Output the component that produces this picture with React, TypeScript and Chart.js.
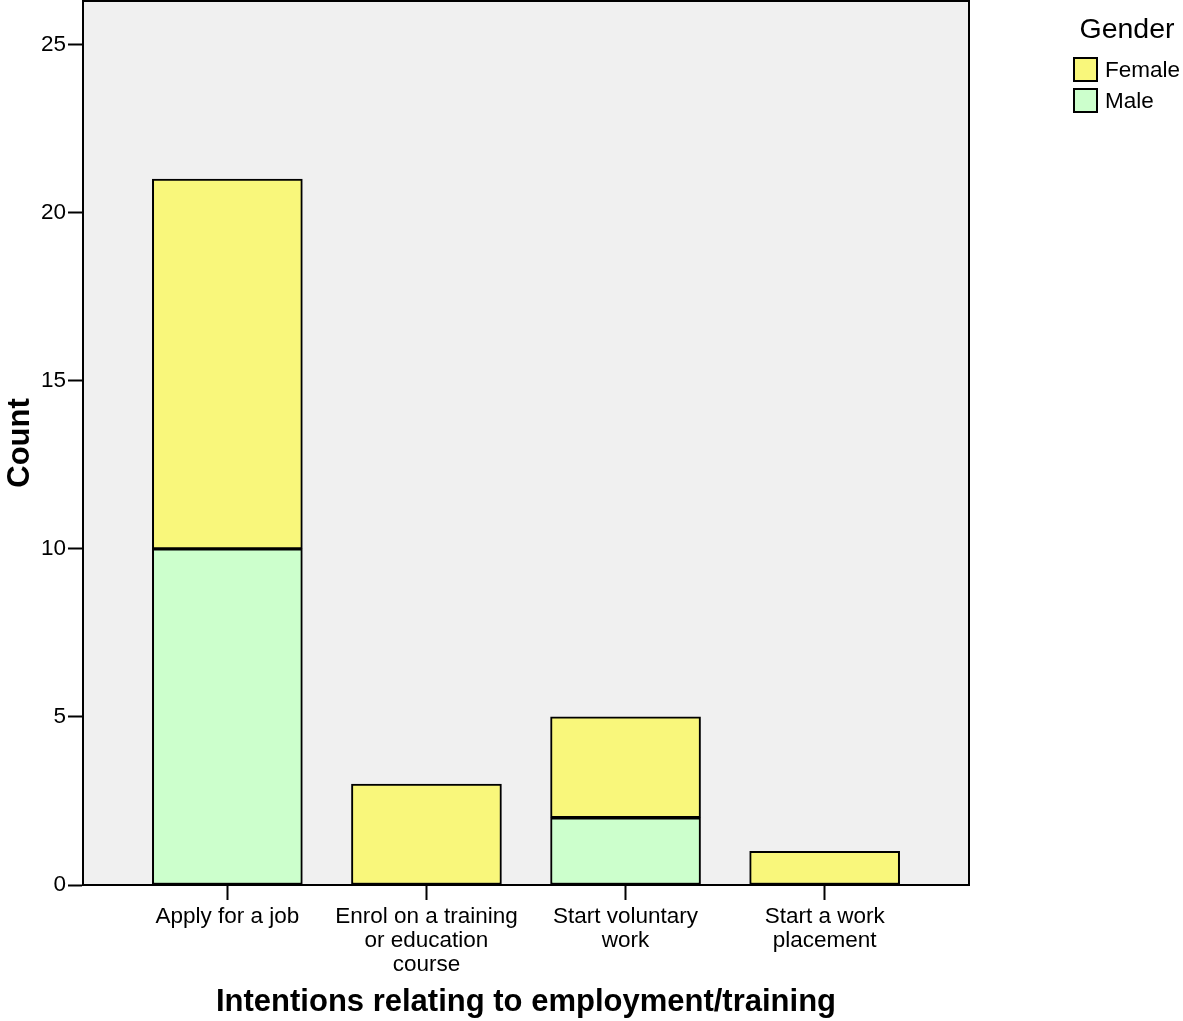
import React, { useEffect, useRef } from "react";
import { Chart, registerables } from "chart.js";

Chart.register(...registerables);

const categories: string[][] = [
  ["Apply for a job"],
  ["Enrol on a training", "or education", "course"],
  ["Start voluntary", "work"],
  ["Start a work", "placement"],
];
const maleCounts: (number | null)[] = [10, null, 2, null];
const femaleCounts: (number | null)[] = [11, 3, 3, 1];
const yTicks: number[] = [0, 5, 10, 15, 20, 25];
const seriesNames = ["Female", "Male"];
const legendTitle = "Gender";
const xTitle = "Intentions relating to employment/training";
const yTitle = "Count";

const FEMALE_COLOR = "#f9f77b";
const MALE_COLOR = "#ccffcc";
const FONT = "'Liberation Sans', Arial, Helvetica, sans-serif";

const toPoints = (vals: (number | null)[]) =>
  vals.map((v, i) => ({ x: i, y: v }));

const framePlugin = {
  id: "frame",
  beforeDraw(chart: any) {
    const { ctx, chartArea } = chart;
    ctx.save();
    ctx.fillStyle = "#f0f0f0";
    ctx.fillRect(chartArea.left, chartArea.top, chartArea.right - chartArea.left, chartArea.bottom - chartArea.top);
    ctx.restore();
  },
  afterDraw(chart: any) {
    const { ctx, chartArea } = chart;
    ctx.save();
    ctx.strokeStyle = "#000";
    ctx.lineWidth = 2;
    ctx.strokeRect(chartArea.left, chartArea.top, chartArea.right - chartArea.left, chartArea.bottom - chartArea.top);
    // custom legend
    ctx.fillStyle = "#000";
    ctx.font = `28.5px ${FONT}`;
    ctx.textAlign = "center";
    ctx.textBaseline = "alphabetic";
    ctx.fillText(legendTitle, 1127, 38);
    const colors = [FEMALE_COLOR, MALE_COLOR];
    seriesNames.forEach((name, i) => {
      const y = 58 + i * 31;
      ctx.fillStyle = colors[i];
      ctx.fillRect(1074, y, 23, 23);
      ctx.strokeStyle = "#000";
      ctx.lineWidth = 2;
      ctx.strokeRect(1074, y, 23, 23);
      ctx.fillStyle = "#000";
      ctx.font = `22.5px ${FONT}`;
      ctx.textAlign = "left";
      ctx.textBaseline = "middle";
      ctx.fillText(name, 1105, y + 13);
    });
    ctx.restore();
  },
};

export default function App() {
  const canvasRef = useRef<HTMLCanvasElement | null>(null);

  useEffect(() => {
    if (!canvasRef.current) return;
    Chart.defaults.font.family = FONT;
    Chart.defaults.color = "#000";
    const chart = new Chart(canvasRef.current, {
      type: "bar",
      data: {
        datasets: [
          {
            label: "Male",
            data: toPoints(maleCounts) as any,
            backgroundColor: MALE_COLOR,
            borderColor: "#000",
            borderWidth: 2,
            borderSkipped: false,
            barThickness: 150,
          },
          {
            label: "Female",
            data: toPoints(femaleCounts) as any,
            backgroundColor: FEMALE_COLOR,
            borderColor: "#000",
            borderWidth: 2,
            borderSkipped: false,
            barThickness: 150,
          },
        ],
      },
      options: {
        animation: false,
        responsive: false,
        devicePixelRatio: 1,
        layout: { padding: { top: 1, right: 214, left: 0, bottom: 0 } },
        plugins: { legend: { display: false }, tooltip: { enabled: false } },
        scales: {
          x: {
            type: "linear",
            stacked: true,
            offset: false,
            min: -0.725,
            max: categories.length - 1 + 0.725,
            afterBuildTicks: (scale: any) => {
              scale.ticks = categories.map((_, i) => ({ value: i }));
            },
            afterFit: (scale: any) => {
              scale.height = 136;
              scale.paddingLeft = 0;
              scale.paddingRight = 0;
            },
            ticks: {
              font: { size: 22.5, lineHeight: 1.07 },
              padding: 5,
              maxRotation: 0,
              autoSkip: false,
              callback: (v: any) => categories[Math.round(Number(v))] ?? "",
            },
            grid: {
              offset: false,
              drawOnChartArea: false,
              tickLength: 15,
              tickWidth: 2,
              tickColor: "#000",
            },
            border: { display: true, color: "#000", width: 2 },
            title: {
              display: true,
              text: xTitle,
              font: { size: 31, weight: "bold" },
              padding: { top: 0, bottom: 0 },
            },
          },
          y: {
            type: "linear",
            stacked: true,
            min: 0,
            max: 26.3,
            afterBuildTicks: (scale: any) => {
              scale.ticks = yTicks.map((v) => ({ value: v }));
            },
            afterFit: (scale: any) => {
              scale.width = 83;
              scale.paddingTop = 0;
              scale.paddingBottom = 0;
            },
            ticks: {
              font: { size: 22.5 },
              padding: 2,
              includeBounds: false,
            },
            grid: {
              drawOnChartArea: false,
              tickLength: 15,
              tickWidth: 2,
              tickColor: "#000",
            },
            border: { display: true, color: "#000", width: 2 },
            title: {
              display: true,
              text: yTitle,
              font: { size: 31, weight: "bold" },
              padding: { top: 2, bottom: 0 },
            },
          },
        },
      },
      plugins: [framePlugin],
    } as any);
    return () => chart.destroy();
  }, []);

  return (
    <div style={{ position: "absolute", left: 0, top: 0, width: 1183, height: 1021, background: "#fff" }}>
      <canvas ref={canvasRef} width={1183} height={1021} style={{ display: "block" }} />
    </div>
  );
}
